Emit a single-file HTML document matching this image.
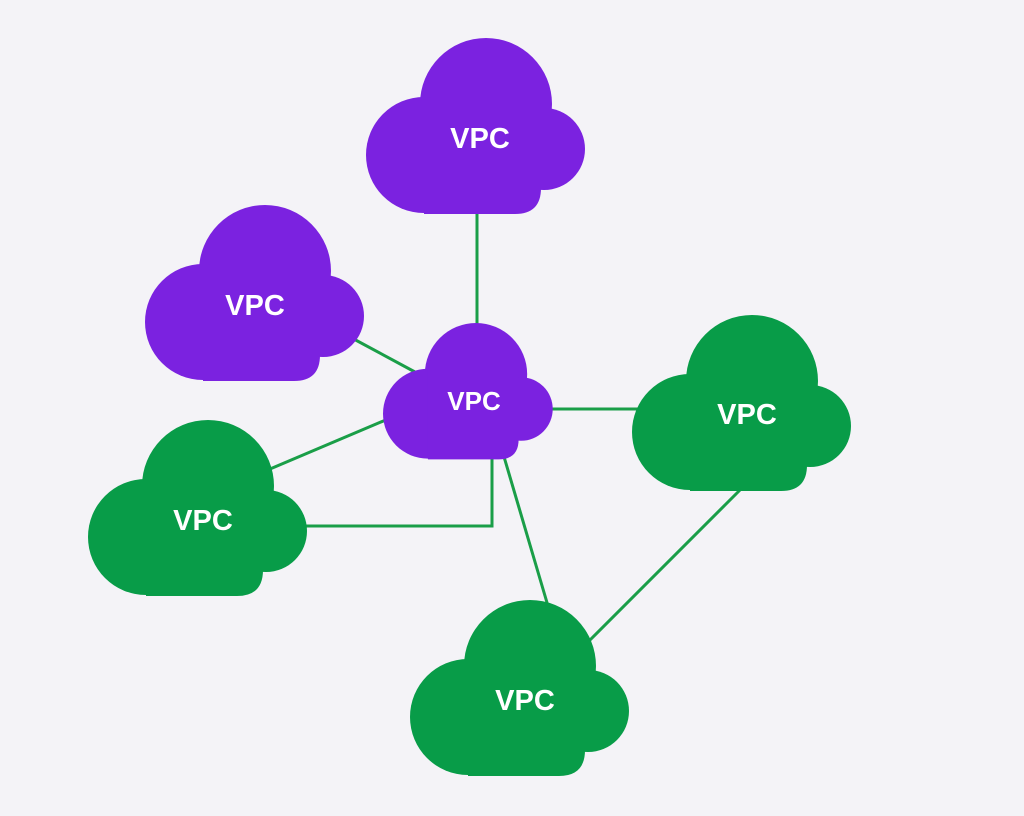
<!DOCTYPE html>
<html><head><meta charset="utf-8"><style>
html,body{margin:0;padding:0;background:#f4f3f7;}
svg{display:block}
text{font-family:"Liberation Sans",sans-serif;font-weight:bold;fill:#fff;text-anchor:middle;}
</style></head><body>
<svg width="1024" height="816" viewBox="0 0 1024 816" xmlns="http://www.w3.org/2000/svg">
<rect width="1024" height="816" fill="#f4f3f7"/>
<defs>
<g id="cloud">
<circle cx="120" cy="66" r="66"/>
<circle cx="58" cy="117" r="58"/>
<circle cx="178" cy="111" r="41"/>
<path d="M58 60 H175 V150 Q175 176 149 176 H58 Z"/>
</g>
</defs>
<g stroke="#1a9e48" stroke-width="3" fill="none">
<line x1="477" y1="210" x2="477" y2="330"/>
<line x1="350" y1="337" x2="415" y2="372"/>
<line x1="270" y1="469" x2="388" y2="419"/>
<polyline points="300,526 492,526 492,450"/>
<line x1="502" y1="450" x2="548" y2="606"/>
<line x1="548" y1="409" x2="640" y2="409"/>
<line x1="742" y1="488" x2="588" y2="642"/>
</g>
<g fill="#7b22e0">
<use href="#cloud" transform="translate(366,38)"/>
<use href="#cloud" transform="translate(145,205)"/>
<use href="#cloud" transform="translate(383,323) scale(0.775)"/>
</g>
<g fill="#089c48">
<use href="#cloud" transform="translate(632,315)"/>
<use href="#cloud" transform="translate(88,420)"/>
<use href="#cloud" transform="translate(410,600)"/>
</g>
<text x="480" y="148" font-size="29">VPC</text>
<text x="255" y="315" font-size="29">VPC</text>
<text x="474" y="410" font-size="26">VPC</text>
<text x="747" y="424" font-size="29">VPC</text>
<text x="203" y="530" font-size="29">VPC</text>
<text x="525" y="710" font-size="29">VPC</text>
</svg>
</body></html>
